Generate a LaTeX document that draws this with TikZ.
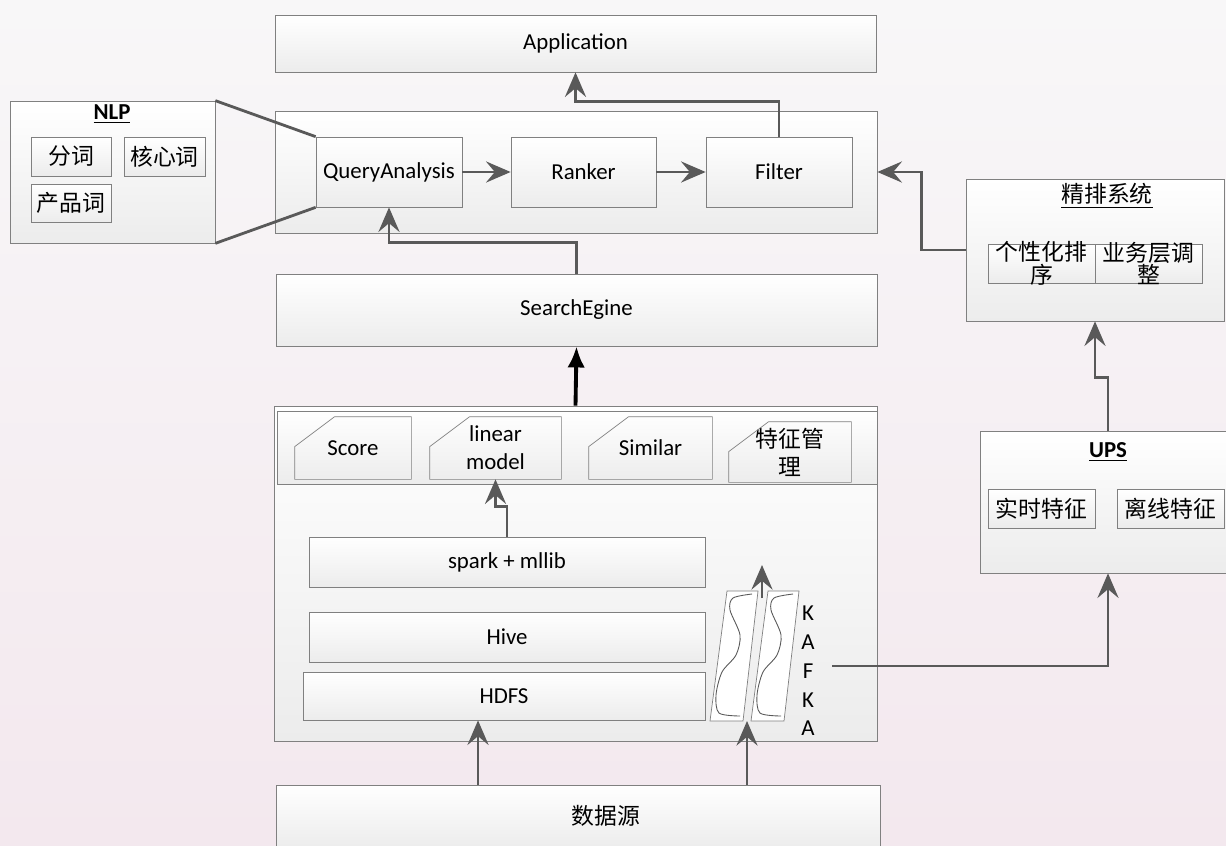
\documentclass[tikz,border=0pt]{standalone}
\usepackage{fontspec}
\setmainfont{Carlito}
\newfontfamily\cjk{Noto Sans CJK SC}
\usepackage{tikz}
\usetikzlibrary{arrows.meta, positioning, fit}
\definecolor{bian}{RGB}{128,128,128}
\definecolor{xian}{RGB}{89,89,89}
\definecolor{dibu}{RGB}{236,236,236}
\definecolor{fondoarriba}{RGB}{248,247,248}
\definecolor{fondoabajo}{RGB}{243,232,238}

\begin{document}
\begin{tikzpicture}[
        x=0.02cm, y=-0.02cm,
        box/.style={draw=bian, top color=white, bottom color=dibu, inner sep=0pt},
        txt/.style={inner sep=0pt, align=center, font=\fontsize{13}{16}\selectfont},
        zh/.style={inner sep=0pt, align=center, font=\cjk\fontsize{13}{16}\selectfont},
        arrow/.style={-{Stealth[length=14pt, width=12pt, inset=5pt]}, line width=1.6pt, xian},
        bigarrow/.style={-{Latex[length=12pt, width=10pt]}, line width=2.2pt, black},
        link/.style={line width=1.6pt, xian},
        cutline/.style={draw=bian},
        wave/.style={draw=xian, line width=0.5pt}
    ]
        \useasboundingbox (0,0) rectangle (1226,845);
        \fill[top color=fondoarriba, bottom color=fondoabajo] (0,0) rectangle (1226,845);

        % top part
        \node[box, fit={(275,15) (876,72)}, label={[txt]center:Application}] (app) {};
        \node[box, fit={(275,111) (877,233)}] (top) {};
        \node[box, fit={(316,137) (462,207)}, label={[txt]center:QueryAnalysis}] (qa) {};
        \node[box, fit={(511,137) (656,207)}, label={[txt]center:Ranker}] (rank) {};
        \node[box, fit={(706,137) (852,207)}, label={[txt]center:Filter}] (filt) {};

        % nlp
        \node[box, fit={(10,101) (215,243)}] (nlp) {};
        \node[txt] (nlpt) at (112,114) {\underline{\textbf{NLP}}};
        \node[box, fit={(31,137) (111,176)}, label={[zh]center:分词}] (fenci) {};
        \node[box, fit={(124,137) (205,176)}, label={[zh]center:核心词}] (hexin) {};
        \node[box, fit={(31,184) (111,222)}, label={[zh]center:产品词}] (chanpin) {};

        \node[box, fit={(276,274) (877,346)}, label={[txt]center:SearchEgine}] (se) {};

        % lower part
        \node[box, fit={(274,406) (877,741)}] (low) {};
        \node[box, fit={(277,411) (877,484)}] (strip) {};
        \node[inner sep=0pt, fit={(295,417) (411,479)}, label={[txt]center:Score}] (score) {};
        \node[inner sep=0pt, fit={(430,417) (561,479)}, label={[txt]center:linear\\model}] (linear) {};
        \node[inner sep=0pt, fit={(589,417) (712,479)}, label={[txt]center:Similar}] (similar) {};
        \node[inner sep=0pt, fit={(729,422) (851,482)}, label={[zh]center:特征管\\理}] (tezheng) {};
        \foreach \n in {score, linear, similar, tezheng}
            \draw[cutline] ([yshift=-0.6cm]\n.north west) -- ([xshift=0.8cm]\n.north west)
                -- (\n.north east) -- (\n.south east) -- (\n.south west) -- cycle;

        \node[box, fit={(309,537) (705,587)}, label={[txt]center:spark + mllib}] (spark) {};
        \node[box, fit={(309,612) (705,662)}, label={[txt]center:Hive}] (hive) {};
        \node[box, fit={(303,672) (705,720)}, label={[txt]center:HDFS}] (hdfs) {};

        % kafka
        \foreach \dx in {0, 41} {
            \draw[draw=bian, fill=white, shift={(\dx,0)}] (727,591) -- (758,591) -- (743,721) -- (710,721) -- cycle;
            \draw[wave, shift={(\dx,0)}] plot[smooth] coordinates {(752,594) (733,598) (730,610) (740,635) (736,655) (722,672) (716,695) (719,713) (740,716)};
        }
        \node[inner sep=0pt, fit={(710,591) (799,721)}] (kafka) {};
        \node[txt, font=\fontsize{13}{16.4}\selectfont] (kafkatxt) at (808,671) {K\\A\\F\\K\\A};
        \coordinate (kbot) at (747,721);
        \coordinate (kin) at (762,598);
        \coordinate (ktop) at (762,565);
        \coordinate (fline) at (832,666);

        % right side
        \node[box, fit={(966,179) (1224,321)}] (jp) {};
        \node[zh] (jpt) at (1107,196) {\underline{精排系统}};
        \node[box, fit={(988,244) (1095,283)}] (gxh) {};
        \node[box, fit={(1095,244) (1202,283)}] (ywc) {};
        \node[zh, font=\cjk\fontsize{13}{12}\selectfont] (gxht) at (gxh.center) {个性化排\\序};
        \node[zh, font=\cjk\fontsize{13}{12}\selectfont] (ywct) at (ywc.center) {业务层调\\整};

        \node[box, fit={(980,431) (1236,573)}] (ups) {};
        \node[txt] (upst) at (1108,452) {\underline{\textbf{UPS}}};
        \node[box, fit={(988,489) (1095,528)}, label={[zh]center:实时特征}] (shishi) {};
        \node[box, fit={(1117,489) (1224,528)}, label={[zh]center:离线特征}] (lixian) {};

        \node[box, fit={(276,785) (880,848)}] (data) {};
        \node[zh] (datat) at (606,816) {数据源};

        % connectors
        \draw[link] (nlp.north east) -- (qa.north west);
        \draw[link] (nlp.south east) -- (qa.south west);
        \draw[arrow] (qa) -- (rank);
        \draw[arrow] (rank) -- (filt);
        \draw[arrow] (filt.north) -- ++(0,-35) -| (app.south);
        \draw[arrow] (se.north) -- ++(0,-31) -| (qa.south);
        \draw[bigarrow] (low.north) -- (se.south);
        \draw[arrow] (spark.north) -- ++(0,-30) -| (linear.south);
        \draw[arrow] ([xshift=-2cm]data.north) -- ([xshift=-2cm]data.north |- hdfs.south);
        \draw[arrow] (data.north -| kbot) -- (kbot);
        \draw[arrow] (kin) -- (ktop);
        \draw[arrow] (fline) -| (ups.south);
        \draw[arrow] (ups.north) -- ++(0,-53) -| (jp.south);
        \draw[arrow] (jp.west) -- ++(-44,0) |- (top.east);
    \end{tikzpicture}
\end{document}
